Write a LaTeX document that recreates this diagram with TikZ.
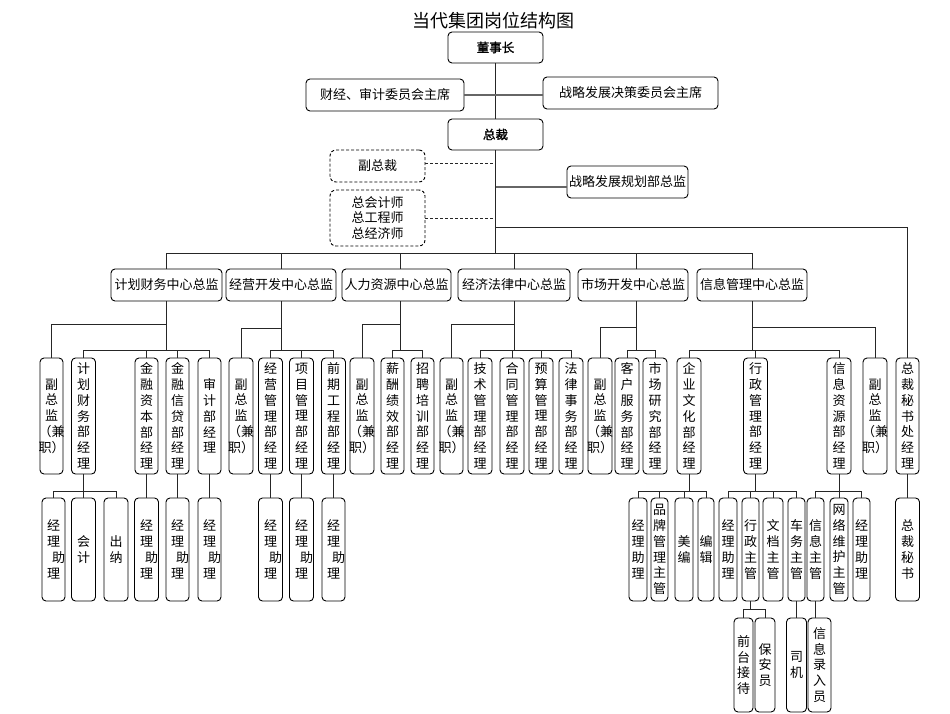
\documentclass[tikz,border=0pt]{standalone}
\usepackage{fontspec}
\setmainfont{Noto Sans CJK SC}
\newfontfamily\cjkbold[FakeBold=1.6]{Noto Sans CJK SC}
\usetikzlibrary{calc}
\tikzset{
 bx/.style={draw=black, line width=0.9pt, rounded corners=4pt, inner sep=0pt, fill=white},
 dbx/.style={dash pattern=on 3pt off 2pt, rounded corners=6pt},
 vt/.style={inner sep=0pt, align=center, font=\fontsize{13}{15.8}\selectfont},
 ln/.style={draw=black!85, line width=0.9pt},
 tl/.style={draw=black!60, line width=1.8pt},
 dl/.style={draw=black!85, line width=0.9pt, dash pattern=on 3pt off 2pt},
}
\newcommand\mybox[7][]{\node[bx,#1,minimum width=#4pt,minimum height={(#6-#5)*1pt}] (#2) at (#3,{(#5+#6)/2}) {};\node[vt] at (#2.center) {#7};}
\newcommand\jlzl{经\\理\\\makebox[1em][l]{\hspace{5pt}助}\\理}
\newcommand\fzj{副\\总\\监\\（兼\\职）}
\newcommand\bt[1]{{\cjkbold\fontsize{12.5}{15}\selectfont #1}}
\begin{document}
\begin{tikzpicture}[x=1pt,y=-1pt]
\useasboundingbox (0,0) rectangle (950,713);
\node[inner sep=0pt, font=\fontsize{18}{20}\selectfont] (title) at (493,21) {当代集团岗位结构图};
% top
\mybox{dsz}{495.5}{95}{32}{63}{\bt{董事长}}
\mybox{cj}{385}{158}{79}{111}{财经、审计委员会主席}
\mybox{zl}{630.5}{175}{77}{109}{战略发展决策委员会主席}
\mybox{zc}{495.5}{95}{119}{150}{\bt{总裁}}
\mybox[dbx]{fzc}{377.5}{95}{150}{182}{副总裁}
\mybox{zlgh}{627.5}{121}{166}{198}{战略发展规划部总监}
\mybox[dbx]{zkj}{377.5}{95}{190}{246}{总会计师\\总工程师\\总经济师}
% level 2
\mybox{c1}{166.5}{111}{269}{301}{计划财务中心总监}
\mybox{c2}{281}{110}{269}{301}{经营开发中心总监}
\mybox{c3}{396.5}{109}{269}{301}{人力资源中心总监}
\mybox{c4}{514}{112}{269}{301}{经济法律中心总监}
\mybox{c5}{633}{110}{269}{301}{市场开发中心总监}
\mybox{c6}{752}{110}{269}{301}{信息管理中心总监}
% level 3
\mybox{g1a}{51.5}{23}{358}{474}{\fzj}
\mybox{g1b}{83.5}{24}{358}{474}{计\\划\\财\\务\\部\\经\\理}
\mybox{g1c}{146.5}{23}{358}{474}{金\\融\\资\\本\\部\\经\\理}
\mybox{g1d}{177.5}{23}{358}{474}{金\\融\\信\\贷\\部\\经\\理}
\mybox{g1e}{209.5}{23}{358}{474}{审\\计\\部\\经\\理}
\mybox{g2a}{241}{24}{358}{474}{\fzj}
\mybox{g2b}{270.5}{24}{358}{474}{经\\营\\管\\理\\部\\经\\理}
\mybox{g2c}{301.5}{24}{358}{474}{项\\目\\管\\理\\部\\经\\理}
\mybox{g2d}{333.5}{24}{358}{474}{前\\期\\工\\程\\部\\经\\理}
\mybox{g3a}{362}{24}{358}{474}{\fzj}
\mybox{g3b}{392.5}{23}{358}{474}{薪\\酬\\绩\\效\\部\\经\\理}
\mybox{g3c}{422.5}{23}{358}{474}{招\\聘\\培\\训\\部\\经\\理}
\mybox{g4a}{451.5}{23}{358}{474}{\fzj}
\mybox{g4b}{480}{24}{358}{474}{技\\术\\管\\理\\部\\经\\理}
\mybox{g4c}{512}{24}{358}{474}{合\\同\\管\\理\\部\\经\\理}
\mybox{g4d}{541}{24}{358}{474}{预\\算\\管\\理\\部\\经\\理}
\mybox{g4e}{571}{24}{358}{474}{法\\律\\事\\务\\部\\经\\理}
\mybox{g5a}{600}{24}{358}{474}{\fzj}
\mybox{g5b}{627}{24}{358}{474}{客\\户\\服\\务\\部\\经\\理}
\mybox{g5c}{655}{24}{358}{474}{市\\场\\研\\究\\部\\经\\理}
\mybox{g6a}{689}{24}{358}{474}{企\\业\\文\\化\\部\\经\\理}
\mybox{g6b}{755.5}{24}{358}{474}{行\\政\\管\\理\\部\\经\\理}
\mybox{g6c}{839}{24}{358}{474}{信\\息\\资\\源\\部\\经\\理}
\mybox{g6d}{875}{24}{358}{474}{\fzj}
\mybox{zsm}{907.5}{23}{358}{474}{总\\裁\\秘\\书\\处\\经\\理}
% level 4
\mybox{h1a}{53.5}{23}{498}{601}{\jlzl}
\mybox{h1b}{83.5}{24}{498}{601}{会\\计}
\mybox{h1c}{116}{24}{498}{601}{出\\纳}
\mybox{h1d}{146.5}{24}{498}{601}{\jlzl}
\mybox{h1e}{177.5}{23}{498}{601}{\jlzl}
\mybox{h1f}{209.5}{23}{498}{601}{\jlzl}
\mybox{h2a}{270.5}{24}{498}{601}{\jlzl}
\mybox{h2b}{301.5}{24}{498}{601}{\jlzl}
\mybox{h2c}{333.5}{23}{498}{601}{\jlzl}
\mybox{k1}{638}{18}{498}{601}{经\\理\\助\\理}
\mybox{k2}{659.5}{17}{498}{601}{品\\牌\\管\\理\\主\\管}
\mybox{k3}{684}{18}{498}{601}{美\\编}
\mybox{k4}{706}{16}{498}{601}{编\\辑}
\mybox{k5}{728}{18}{498}{601}{经\\理\\助\\理}
\mybox{k6}{750.5}{17}{498}{601}{行\\政\\主\\管}
\mybox{k7}{773}{20}{498}{601}{文\\档\\主\\管}
\mybox{k8}{796.5}{17}{498}{601}{车\\务\\主\\管}
\mybox{k9}{815.5}{17}{498}{601}{信\\息\\主\\管}
\mybox{k10}{839}{18}{498}{601}{网\\络\\维\\护\\主\\管}
\mybox{k11}{861.5}{17}{498}{601}{经\\理\\助\\理}
\mybox{zms}{907.5}{24}{498}{601}{总\\裁\\秘\\书}
% level 5
\mybox{m1}{743.5}{19}{618}{712}{前\\台\\接\\待}
\mybox{m2}{765}{20}{618}{712}{保\\安\\员}
\mybox{m3}{796.5}{20}{618}{712}{司\\机}
\mybox{m4}{819.5}{23}{618}{712}{信\\息\\录\\入\\员}
% helper coordinates
\coordinate (fzcE) at ([yshift=3pt]fzc.east);
\coordinate (zlghW) at ([yshift=-5pt]zlgh.west);
\coordinate (c3t) at ([xshift=4pt]c3.north);
\coordinate (c3b) at ([xshift=4pt]c3.south);
\coordinate (c5t) at ([xshift=3pt]c5.north);
\coordinate (c5b) at ([xshift=3pt]c5.south);
% top connectors
\draw[ln] (dsz.south) -- (zc.north);
\draw[tl] (cj.east) -- (cj.east -| zl.west);
\draw[ln] (zc.south) -- (zc.south |- 0,253);
\draw[dl] (fzcE) -- (fzcE -| zc.south);
\draw[tl] (zlghW) -- (zlghW -| zc.south);
\draw[dl] (zkj.east) -- (zkj.east -| zc.south);
\draw[ln] (zc.south |- 0,227) -| (zsm.north);
% level 2 bus
\draw[ln] (c1.north) |- (c6.north |- 0,253) -- (c6.north);
\draw[ln] (c2.north) -- (c2.north |- 0,253);
\draw[ln] (c3t) -- (c3t |- 0,253);
\draw[ln] (c4.north) -- (c4.north |- 0,253);
\draw[ln] (c5t) -- (c5t |- 0,253);
% group 1
\draw[ln] (c1.south) -- (c1.south |- 0,350);
\draw[ln] (g1a.north) |- (c1.south |- 0,324);
\draw[ln] (g1b.north) |- (g1e.north |- 0,350) -- (g1e.north);
\draw[ln] (g1c.north) -- (g1c.north |- 0,350);
\draw[ln] (g1d.north) -- (g1d.north |- 0,350);
% group 2
\draw[ln] (c2.south) -- (c2.south |- 0,350);
\draw[ln] (g2a.north) |- (c2.south |- 0,328);
\draw[ln] (g2b.north) |- (g2d.north |- 0,350) -- (g2d.north);
\draw[ln] (g2c.north) -- (g2c.north |- 0,350);
% group 3
\draw[ln] (c3b) -- (c3b |- 0,350);
\draw[ln] (g3a.north) |- (c3b |- 0,324);
\draw[ln] (g3b.north) |- (g3c.north |- 0,350) -- (g3c.north);
% group 4
\draw[ln] (c4.south) -- (c4.south |- 0,350);
\draw[ln] (g4a.north) |- (c4.south |- 0,324);
\draw[ln] (g4b.north) |- (g4e.north |- 0,350) -- (g4e.north);
\draw[ln] (g4c.north) -- (g4c.north |- 0,350);
\draw[ln] (g4d.north) -- (g4d.north |- 0,350);
% group 5
\draw[ln] (c5b) -- (c5b |- 0,350);
\draw[ln] (g5a.north) |- (c5b |- 0,327);
\draw[ln] (g5b.north) |- (g5c.north |- 0,350) -- (g5c.north);
% group 6
\draw[ln] (c6.south) -- (c6.south |- 0,350);
\draw[ln] (g6d.north) |- (c6.south |- 0,327);
\draw[ln] (g6a.north) |- (g6c.north |- 0,350) -- (g6c.north);
\draw[ln] (g6b.north) -- (g6b.north |- 0,350);
% level 4 left
\draw[ln] (g1b.south) -- (h1b.north);
\draw[ln] (h1a.north) |- (h1c.north |- 0,491) -- (h1c.north);
\draw[ln] (g1c.south) -- (h1d.north);
\draw[ln] (g1d.south) -- (h1e.north);
\draw[ln] (g1e.south) -- (h1f.north);
\draw[ln] (g2b.south) -- (h2a.north);
\draw[ln] (g2c.south) -- (h2b.north);
\draw[ln] (g2d.south) -- (h2c.north);
% level 4 right
\draw[ln] (g6a.south) -- (g6a.south |- 0,491);
\draw[ln] (k1.north) |- (k4.north |- 0,491) -- (k4.north);
\draw[ln] (k2.north) -- (k2.north |- 0,491);
\draw[ln] (k3.north) -- (k3.north |- 0,491);
\draw[ln] (g6b.south) -- (g6b.south |- 0,491);
\draw[ln] (k5.north) |- (k8.north |- 0,491) -- (k8.north);
\draw[ln] (k6.north) -- (k6.north |- 0,491);
\draw[ln] (k7.north) -- (k7.north |- 0,491);
\draw[ln] (g6c.south) -- (g6c.south |- 0,491);
\draw[ln] (k9.north) |- (k11.north |- 0,491) -- (k11.north);
\draw[ln] (k10.north) -- (k10.north |- 0,491);
\draw[ln] (zsm.south) -- (zms.north);
% level 5
\draw[ln] (k6.south) -- (k6.south |- 0,609);
\draw[ln] (m1.north) |- (m2.north |- 0,609) -- (m2.north);
\draw[ln] (k8.south) -- (m3.north);
\draw[ln] (k9.south) -- (k9.south |- m4.north);
\end{tikzpicture}
\end{document}
